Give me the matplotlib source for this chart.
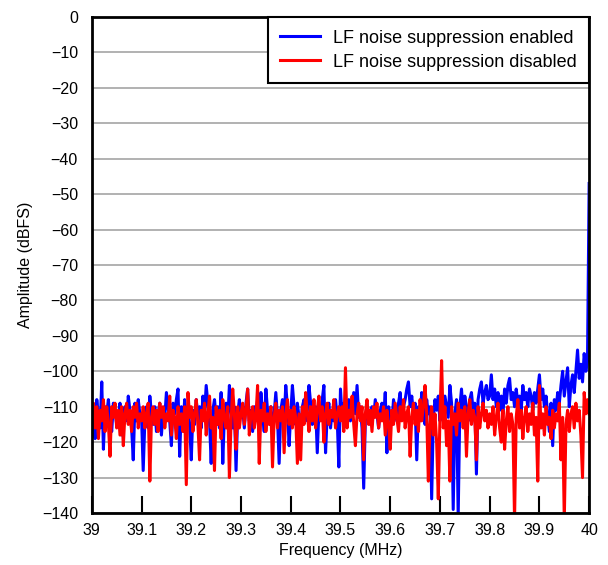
import numpy as np
import matplotlib.pyplot as plt

plt.rcParams['font.family'] = ['Liberation Sans', 'DejaVu Sans']

# amplitudes (dBFS), 30 values per 0.1 MHz from 39.0 MHz, last value at 40.0 MHz
azul = [
    -110, -114, -119, -108, -113, -116, -103, -122, -110, -112, -108, -114, -117, -109, -111, -115, -113, -109, -118, -112, -110, -114, -107, -111, -116, -125, -109, -114, -108, -112,
    -113, -128, -114, -110, -116, -107, -112, -115, -110, -117, -112, -109, -118, -111, -113, -106, -110, -114, -121, -109, -112, -108, -105, -124, -110, -116, -108, -113, -110, -115,
    -125, -111, -115, -108, -113, -110, -116, -107, -112, -104, -109, -114, -126, -111, -108, -113, -110, -116, -106, -126, -112, -109, -114, -104, -111, -116, -110, -128, -112, -108,
    -113, -110, -116, -109, -105, -114, -111, -117, -110, -113, -108, -115, -106, -112, -117, -105, -111, -114, -110, -118, -112, -106, -113, -126, -111, -108, -114, -104, -110, -121,
    -112, -104, -110, -115, -109, -113, -117, -110, -108, -114, -111, -104, -109, -115, -112, -110, -123, -111, -113, -108, -104, -123, -112, -109, -116, -111, -114, -108, -113, -127,
    -105, -113, -109, -115, -111, -108, -114, -110, -106, -112, -104, -113, -110, -116, -133, -114, -109, -112, -115, -110, -113, -108, -112, -116, -111, -109, -114, -106, -123, -110,
    -112, -115, -108, -111, -114, -109, -106, -113, -110, -108, -105, -103, -110, -107, -112, -109, -125, -110, -114, -106, -111, -115, -108, -112, -110, -136, -113, -108, -111, -107,
    -114, -109, -112, -107, -110, -113, -104, -109, -139, -112, -108, -141, -110, -105, -112, -107, -110, -114, -108, -106, -111, -109, -129, -108, -105, -103, -109, -106, -104, -108,
    -107, -101, -108, -105, -110, -106, -111, -107, -112, -105, -109, -104, -102, -108, -106, -110, -105, -109, -107, -111, -104, -108, -106, -110, -105, -107, -111, -106, -109, -105,
    -101, -108, -105, -110, -107, -112, -117, -109, -121, -108, -111, -106, -109, -104, -100, -107, -103, -99, -110, -104, -101, -106, -100, -94, -102, -98, -103, -95, -100, -97,
    -47]

rojo = [
    -112, -109, -116, -110, -119, -111, -114, -108, -117, -110, -115, -124, -110, -113, -109, -116, -111, -118, -110, -121, -112, -109, -115, -111, -117, -110, -113, -109, -116, -112,
    -114, -110, -116, -112, -109, -131, -113, -110, -115, -111, -117, -109, -113, -110, -116, -112, -114, -107, -118, -111, -113, -119, -110, -115, -112, -117, -110, -132, -106, -113,
    -110, -117, -112, -108, -115, -125, -111, -114, -109, -118, -112, -107, -116, -113, -128, -110, -115, -111, -119, -108, -113, -116, -110, -130, -114, -105, -112, -122, -110, -116,
    -112, -109, -115, -111, -105, -118, -112, -110, -116, -113, -104, -126, -111, -114, -109, -117, -112, -115, -110, -127, -113, -109, -116, -111, -114, -110, -123, -112, -108, -115,
    -111, -116, -110, -113, -126, -112, -125, -110, -115, -106, -112, -117, -110, -114, -108, -116, -111, -107, -114, -110, -120, -112, -109, -115, -111, -113, -108, -116, -112, -110,
    -114, -110, -117, -99, -116, -111, -113, -107, -115, -121, -112, -109, -114, -110, -125, -112, -108, -115, -111, -117, -110, -113, -109, -116, -112, -114, -110, -118, -111, -115,
    -122, -111, -115, -109, -113, -117, -110, -114, -108, -116, -112, -110, -124, -113, -109, -115, -111, -117, -108, -114, -110, -104, -112, -131, -115, -110, -118, -112, -120, -136,
    -113, -97, -116, -110, -121, -114, -131, -110, -115, -112, -118, -109, -114, -111, -116, -110, -124, -112, -108, -115, -111, -113, -125, -110, -116, -112, -109, -114, -111, -116,
    -112, -115, -110, -118, -113, -109, -116, -120, -111, -122, -114, -110, -117, -112, -115, -142, -113, -108, -116, -111, -119, -113, -110, -117, -112, -115, -109, -118, -113, -131,
    -104, -116, -112, -118, -110, -115, -113, -119, -111, -116, -112, -114, -109, -125, -113, -142, -115, -111, -117, -112, -110, -116, -109, -114, -111, -118, -130, -106, -112, -108,
    -112]

frec = np.linspace(39.0, 40.0, len(azul))
xticks = [39, 39.1, 39.2, 39.3, 39.4, 39.5, 39.6, 39.7, 39.8, 39.9, 40]
xlabels = ['39', '39.1', '39.2', '39.3', '39.4', '39.5', '39.6', '39.7', '39.8', '39.9', '40']
yticks = np.arange(-140, 1, 10)

fig = plt.figure(figsize=(6.08, 5.65), dpi=100)
ax = fig.add_axes([0.151, 0.092, 0.818, 0.878])

ax.plot(frec, azul, c='#0000ff', lw=2.2, label='LF noise suppression enabled')
ax.plot(frec, rojo, c='#ff0000', lw=2.2, label='LF noise suppression disabled')

ax.set_xlim(39, 40)
ax.set_ylim(-140, 0)
ax.set_xticks(xticks)
ax.set_xticklabels(xlabels)
ax.set_yticks(yticks)
ax.yaxis.grid(True, color='#ababab', lw=1.3)
ax.set_axisbelow(True)
ax.tick_params(axis='x', direction='in', length=12, width=1.5, pad=7, labelsize=11.5)
ax.tick_params(axis='y', length=0, pad=10, labelsize=11.5)
for s in ax.spines.values():
    s.set_linewidth(2)
    s.set_zorder(5)

ax.set_xlabel('Frequency (MHz)', fontsize=11.5, labelpad=4)
ax.set_ylabel('Amplitude (dBFS)', fontsize=11.5, labelpad=6)

leg = ax.legend(loc='upper right', fontsize=13, fancybox=False, framealpha=1,
                edgecolor='black', borderaxespad=0, handlelength=2.2, handletextpad=0.7,
                borderpad=0.7, labelspacing=0.4)
leg.get_frame().set_linewidth(1.5)
leg.set_zorder(6)

fig.savefig('out.png', dpi=100)
